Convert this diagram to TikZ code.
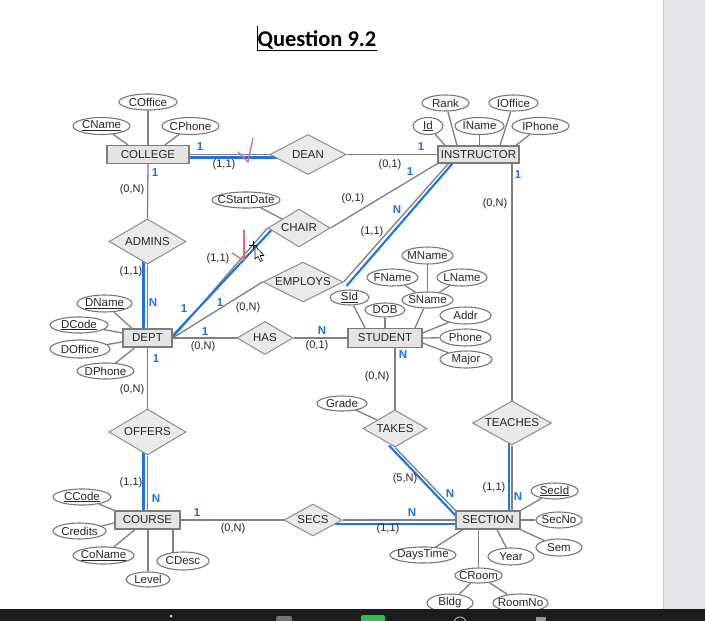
\documentclass[tikz,border=0pt]{standalone}
\usepackage{fontspec}
\setmainfont{Liberation Sans}
\newfontfamily\titlefont{Carlito}
\usetikzlibrary{shapes.geometric,calc}
\definecolor{ln}{HTML}{808080}
\definecolor{bl}{HTML}{1A74E6}
\definecolor{entf}{HTML}{E4E4E4}
\definecolor{entd}{HTML}{7C7C7C}
\definecolor{relf}{HTML}{EAEAEA}
\definecolor{reld}{HTML}{8C8C8C}
\definecolor{attd}{HTML}{777777}
\definecolor{txt}{HTML}{262626}
\definecolor{chk}{HTML}{E8667A}
\definecolor{panel}{HTML}{E6E6E8}
\definecolor{panelb}{HTML}{C8C8C8}
\definecolor{bar}{HTML}{1C1C1C}
\definecolor{grn}{HTML}{2FBF4F}
\newcommand\zb[1]{\hbox to 0pt{\hss#1\hss}}
\pgfdeclarelayer{bg}
\pgfsetlayers{bg,main}
\begin{document}
\begin{tikzpicture}[x=1pt,y=-1pt,
  ent/.style={rectangle,draw=entd,fill=entf,line width=1.2pt,inner sep=0pt,minimum height=18pt,font=\fontsize{11.5}{13}\selectfont,text=txt},
  rel/.style={diamond,draw=reld,fill=relf,line width=1pt,inner sep=0pt,font=\fontsize{11.5}{13}\selectfont,text=txt},
  attr/.style={ellipse,draw=attd,fill=white,line width=1.1pt,inner sep=0pt,minimum height=16pt,font=\fontsize{11.5}{13}\selectfont,text=txt},
  conn/.style={draw=ln,line width=1.3pt},
  blu/.style={draw=bl,line width=2.1pt},
  card/.style={font=\fontsize{11}{12}\selectfont,text=txt,inner sep=0pt},
  bcard/.style={font=\bfseries\fontsize{11.5}{13}\selectfont,text=bl,inner sep=0pt},
]
\useasboundingbox (0,0) rectangle (705,621);
\begin{pgfonlayer}{bg}
\fill[white] (0,0) rectangle (705,621);
\end{pgfonlayer}

% title
\node[font=\titlefont\bfseries\fontsize{22.5}{26}\selectfont,inner sep=0pt,anchor=base,text=black] (title) at (317,46) {Question 9.2};
\draw[line width=1.5pt] ($(title.base west)+(0,4.5)$) -- ($(title.base east)+(0,4.5)$);
\draw[line width=0.8pt] (257,26) -- (257,50);

% entities
\node[ent,minimum width=82pt] (COLLEGE) at (148,154.5) {\zb{COLLEGE}};
\node[ent,minimum width=81pt,minimum height=17pt] (INSTRUCTOR) at (478.5,154.5) {\zb{INSTRUCTOR}};
\node[ent,minimum width=49pt] (DEPT) at (147.5,338) {\zb{DEPT}};
\node[ent,minimum width=74pt,minimum height=19pt] (STUDENT) at (385,338) {\zb{STUDENT}};
\node[ent,minimum width=65pt] (COURSE) at (147.5,520) {\zb{COURSE}};
\node[ent,minimum width=64pt] (SECTION) at (488,520) {\zb{SECTION}};

% relationships
\node[rel,minimum width=76pt,minimum height=40pt] (DEAN) at (308,154.5) {\zb{DEAN}};
\node[rel,minimum width=62pt,minimum height=38pt] (CHAIR) at (299,228) {\zb{CHAIR}};
\node[rel,minimum width=77pt,minimum height=45pt] (ADMINS) at (147.5,241.5) {\zb{ADMINS}};
\node[rel,minimum width=80pt,minimum height=40pt] (EMPLOYS) at (303,282) {\zb{EMPLOYS}};
\node[rel,minimum width=56pt,minimum height=33pt] (HAS) at (265,338) {\zb{HAS}};
\node[rel,minimum width=77pt,minimum height=46pt] (OFFERS) at (147.5,432) {\zb{OFFERS}};
\node[rel,minimum width=64pt,minimum height=37pt] (TAKES) at (395,428.5) {\zb{TAKES}};
\node[rel,minimum width=79pt,minimum height=44pt] (TEACHES) at (512,423) {\zb{TEACHES}};
\node[rel,minimum width=58pt,minimum height=32pt] (SECS) at (313,520) {\zb{SECS}};

% attributes
\node[attr,minimum width=58pt] (COffice) at (148,102) {\zb{COffice}};
\node[attr,minimum width=57pt,minimum height=17pt] (CName) at (101.5,126) {\zb{\underline{CName}}};
\node[attr,minimum width=57pt,minimum height=17pt] (CPhone) at (190.5,126) {\zb{CPhone}};
\node[attr,minimum width=68pt] (CStartDate) at (246,200) {\zb{CStartDate}};
\node[attr,minimum width=47pt] (Rank) at (445.5,103) {\zb{Rank}};
\node[attr,minimum width=49pt] (IOffice) at (513.5,103) {\zb{IOffice}};
\node[attr,minimum width=30pt,minimum height=17pt] (Id) at (428,126) {\zb{\underline{Id}}};
\node[attr,minimum width=49pt,minimum height=17pt] (IName) at (479.5,126) {\zb{IName}};
\node[attr,minimum width=57pt,minimum height=17pt] (IPhone) at (540.5,126) {\zb{IPhone}};
\node[attr,minimum width=55pt,minimum height=17pt] (DName) at (104.5,303.5) {\zb{\underline{DName}}};
\node[attr,minimum width=58pt] (DCode) at (79,325) {\zb{\underline{DCode}}};
\node[attr,minimum width=60pt,minimum height=18pt] (DOffice) at (80,349) {\zb{DOffice}};
\node[attr,minimum width=57pt] (DPhone) at (105.5,371) {\zb{DPhone}};
\node[attr,minimum width=51pt,minimum height=17pt] (MName) at (427.5,255.5) {\zb{MName}};
\node[attr,minimum width=51pt,minimum height=17pt] (FName) at (392.5,277.5) {\zb{FName}};
\node[attr,minimum width=50pt,minimum height=17pt] (LName) at (462,277.5) {\zb{LName}};
\node[attr,minimum width=51pt] (SName) at (427.5,300) {\zb{SName}};
\node[attr,minimum width=39pt,minimum height=15pt] (SId) at (349.5,297.5) {\zb{\underline{SId}}};
\node[attr,minimum width=40pt,minimum height=14pt] (DOB) at (385,310) {\zb{DOB}};
\node[attr,minimum width=51pt,minimum height=17pt] (Addr) at (465.5,315.5) {\zb{Addr}};
\node[attr,minimum width=51pt,minimum height=17pt] (Phone) at (465.5,337.5) {\zb{Phone}};
\node[attr,minimum width=52pt,minimum height=17pt] (Major) at (466,359.5) {\zb{Major}};
\node[attr,minimum width=50pt,minimum height=15pt] (Grade) at (342,403.5) {\zb{Grade}};
\node[attr,minimum width=58pt] (CCode) at (82,497) {\zb{\underline{CCode}}};
\node[attr,minimum width=53pt] (Credits) at (79.5,531) {\zb{Credits}};
\node[attr,minimum width=61pt,minimum height=17pt] (CoName) at (103.5,555.5) {\zb{\underline{CoName}}};
\node[attr,minimum width=44pt,minimum height=15pt] (Level) at (148,579.5) {\zb{Level}};
\node[attr,minimum width=52pt,minimum height=18pt] (CDesc) at (183,561) {\zb{CDesc}};
\node[attr,minimum width=47pt] (SecId) at (554.5,491) {\zb{\underline{SecId}}};
\node[attr,minimum width=46pt] (SecNo) at (559,520) {\zb{SecNo}};
\node[attr,minimum width=46pt,minimum height=17pt] (Sem) at (559,547.5) {\zb{Sem}};
\node[attr,minimum width=66pt] (DaysTime) at (423,555) {\zb{DaysTime}};
\node[attr,minimum width=46pt,minimum height=17pt] (Year) at (511,556.5) {\zb{Year}};
\node[attr,minimum width=47pt,minimum height=15pt] (CRoom) at (478.5,575.5) {\zb{CRoom}};
\node[attr,minimum width=46pt,minimum height=18pt] (Bldg) at (450,603) {\zb{Bldg}};
\node[attr,minimum width=55pt,minimum height=18pt] (RoomNo) at (520.5,603) {\zb{RoomNo}};

\begin{pgfonlayer}{bg}
% attribute links
\draw[conn] (COffice) -- (COLLEGE.north);
\draw[conn] (CName) -- ([shift={(-20,0)}]COLLEGE.north);
\draw[conn] (CPhone) -- ([shift={(17,0)}]COLLEGE.north);
\draw[conn] (CStartDate) -- (CHAIR);
\draw[conn] (Id) -- ([shift={(-33.5,0)}]INSTRUCTOR.north);
\draw[conn] (Rank) -- ([shift={(-21.5,0)}]INSTRUCTOR.north);
\draw[conn] (IName) -- ([shift={(1,0)}]INSTRUCTOR.north);
\draw[conn] (IOffice) -- ([shift={(21.5,0)}]INSTRUCTOR.north);
\draw[conn] (IPhone) -- ([shift={(37.5,0)}]INSTRUCTOR.north);
\draw[conn] (DName) -- ([shift={(-15.5,0)}]DEPT.north);
\draw[conn] (DCode) -- ([shift={(0,-5)}]DEPT.west);
\draw[conn] (DOffice) -- ([shift={(0,4)}]DEPT.west);
\draw[conn] (DPhone) -- ([shift={(-12.5,0)}]DEPT.south);
\draw[conn] (MName) -- (SName);
\draw[conn] (FName) -- (SName);
\draw[conn] (LName) -- (SName);
\draw[conn] (SId) -- ([shift={(-20,0)}]STUDENT.north);
\draw[conn] (DOB) -- (STUDENT.north);
\draw[conn] (SName) -- ([shift={(30,0)}]STUDENT.north);
\draw[conn] (Addr) -- ([shift={(0,-5)}]STUDENT.east);
\draw[conn] (Phone) -- (STUDENT.east);
\draw[conn] (Major) -- ([shift={(0,5)}]STUDENT.east);
\draw[conn] (Grade) -- (TAKES);
\draw[conn] (CCode) -- (COURSE.north west);
\draw[conn] (Credits) -- ([shift={(0,3)}]COURSE.west);
\draw[conn] (CoName) -- ([shift={(-12.5,0)}]COURSE.south);
\draw[conn] (Level) -- ([shift={(0.5,0)}]COURSE.south);
\draw[conn] ([shift={(25.5,0)}]COURSE.south) -- ($(COURSE.south)+(25.5,23.5)$);
\draw[conn] (SecId) -- (SECTION.north east);
\draw[conn] (SecNo) -- (SECTION.east);
\draw[conn] (Sem) -- (SECTION.south east);
\draw[conn] (DaysTime) -- ([shift={(-25,0)}]SECTION.south);
\draw[conn] (Year) -- ([shift={(9,0)}]SECTION.south);
\draw[conn] (CRoom) -- ([shift={(-9.5,0)}]SECTION.south);
\draw[conn] (CRoom) -- (Bldg);
\draw[conn] (CRoom) -- (RoomNo);

% relationship links
\draw[conn] (COLLEGE.east) -- (DEAN.west);
\draw[blu] ([shift={(0,3)}]COLLEGE.east) -- ([shift={(8,3)}]DEAN.west);
\draw[conn] (DEAN.east) -- (INSTRUCTOR.west);
\draw[conn] (COLLEGE.south) -- (ADMINS.north);
\draw[conn] (ADMINS.south) -- (DEPT.north);
\draw[blu] ([shift={(-4,-4)}]ADMINS.south) -- ([shift={(-4,0)}]DEPT.north);
\draw[conn] (DEPT.east) -- (CHAIR.west);
\draw[blu] ([shift={(-2,0)}]DEPT.east) -- ([shift={(4,2)}]CHAIR.west);
\draw[conn] (CHAIR.east) -- (INSTRUCTOR.south west);
\draw[conn] (DEPT.east) -- (EMPLOYS.west);
\draw[conn] (EMPLOYS.east) -- ([shift={(11,0)}]INSTRUCTOR.south west);
\draw[blu] ([shift={(3,4)}]EMPLOYS.east) -- ([shift={(15,0)}]INSTRUCTOR.south west);
\draw[conn] (DEPT.east) -- (HAS.west);
\draw[conn] (HAS.east) -- (STUDENT.west);
\draw[conn] (DEPT.south) -- (OFFERS.north);
\draw[conn] (OFFERS.south) -- (COURSE.north);
\draw[blu] ([shift={(-4,-4)}]OFFERS.south) -- ([shift={(-4,0)}]COURSE.north);
\draw[conn] (COURSE.east) -- (SECS.west);
\draw[conn] (SECS.east) -- (SECTION.west);
\draw[blu] ([shift={(-8,4)}]SECS.east) -- ([shift={(0,4)}]SECTION.west);
\draw[conn] ([shift={(10,0)}]STUDENT.south) -- (TAKES.north);
\draw[conn] (TAKES.south) -- (SECTION.north west);
\draw[blu] ([shift={(-6,-2)}]TAKES.south) -- ([shift={(1,6)}]SECTION.north west);
\draw[conn] ([shift={(33.5,0)}]INSTRUCTOR.south) -- (TEACHES.north);
\draw[conn] (TEACHES.south) -- (TEACHES.south |- SECTION.north);
\draw[blu] ([shift={(-3,-4)}]TEACHES.south) -- ($(TEACHES.south |- SECTION.north)+(-3,0)$);
\end{pgfonlayer}

% cardinalities
\node[bcard] (k1) at (200,147) {1};
\node[card] (k2) at (224,165) {(1,1)};
\node[bcard] (k3) at (155,173) {1};
\node[card] (k4) at (132,190) {(0,N)};
\node[bcard] (k5) at (421,147) {1};
\node[card] (k6) at (390,165) {(0,1)};
\node[bcard] (k7) at (410,172) {1};
\node[card] (k8) at (353,199) {(0,1)};
\node[bcard] (k9) at (397,210) {N};
\node[card] (k10) at (372,232) {(1,1)};
\node[bcard] (k11) at (518,175) {1};
\node[card] (k12) at (495,204) {(0,N)};
\node[card] (k13) at (218,259) {(1,1)};
\node[card] (k14) at (131,272) {(1,1)};
\node[bcard] (k15) at (153,303) {N};
\node[bcard] (k16) at (184,309) {1};
\node[bcard] (k17) at (220,303) {1};
\node[card] (k18) at (248,308) {(0,N)};
\node[bcard] (k19) at (205,332) {1};
\node[card] (k20) at (203,347) {(0,N)};
\node[bcard] (k21) at (322,331) {N};
\node[card] (k22) at (317,346) {(0,1)};
\node[bcard] (k23) at (156,359) {1};
\node[card] (k24) at (132,390) {(0,N)};
\node[bcard] (k25) at (403,355) {N};
\node[card] (k26) at (377,377) {(0,N)};
\node[card] (k27) at (131,483) {(1,1)};
\node[bcard] (k28) at (156,499) {N};
\node[bcard] (k29) at (197,513) {1};
\node[card] (k30) at (233,529) {(0,N)};
\node[card] (k31) at (405,479) {(5,N)};
\node[bcard] (k32) at (450,494) {N};
\node[card] (k33) at (494,488) {(1,1)};
\node[bcard] (k34) at (518,497) {N};
\node[bcard] (k35) at (412,513) {N};
\node[card] (k36) at (388,529) {(1,1)};

% hand-drawn marks
\draw[chk,line width=1.3pt,line cap=round,line join=round] (238,152) -- (248,162) .. controls (250,152) .. (253,138);
\draw[chk,line width=1.3pt,line cap=round] (244,230) -- (244,261);
\draw[chk,line width=1.3pt,line cap=round] (232,253) -- (243,260);
% mouse pointer
\draw[black,line width=0.6pt] (249,245) -- (257,245) (253,241) -- (253,249);
\draw[fill=white,line width=0.6pt,line join=round] (255,246) -- (255,259) -- (258,256.5) -- (260.5,261.5) -- (262.5,260.5) -- (260,255.5) -- (264,255.5) -- cycle;

% window chrome
\fill[panel] (663,0) rectangle (705,609);
\draw[panelb,line width=0.8pt] (663,0) -- (663,609);
\fill[bar] (0,609) rectangle (705,621);
\fill[black!15] (171,616) circle (1.5);
\fill[black!55,rounded corners=1.5] (276,616) rectangle (292,623);
\fill[grn,rounded corners=2] (361,615) rectangle (385,623);
\draw[black!35,line width=1pt] (460,623) circle (6);
\fill[black!40] (536,617) rectangle (546,623);
\end{tikzpicture}
\end{document}
